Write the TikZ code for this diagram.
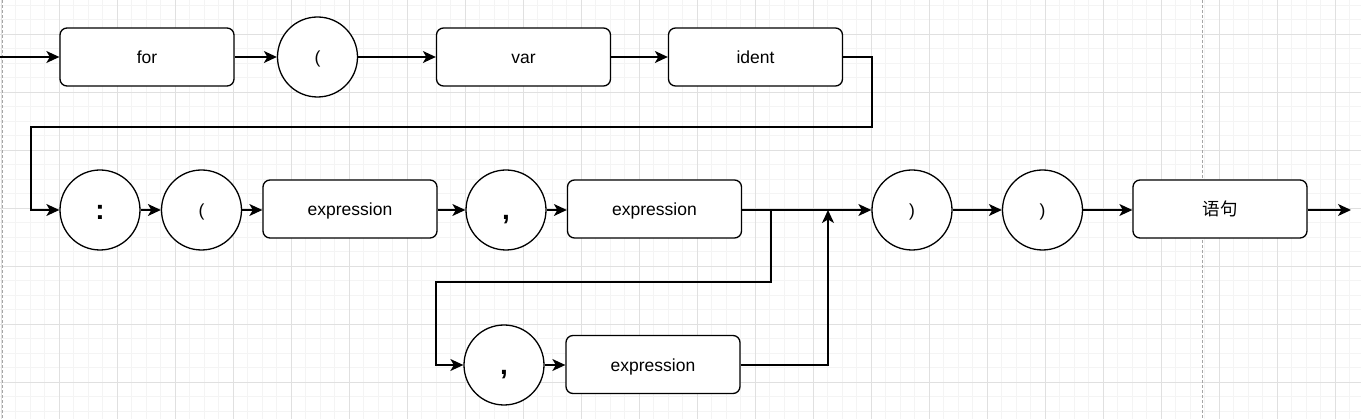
\documentclass[tikz,border=0pt]{standalone}
\usepackage{fontspec}
\setmainfont{Liberation Sans}
\newfontfamily\cjk{Noto Sans CJK SC}
\usetikzlibrary{arrows.meta,calc}
\definecolor{gridminor}{RGB}{244,244,244}
\definecolor{gridmajor}{RGB}{224,224,224}

\begin{document}
\begin{tikzpicture}[x=1pt,y=-1pt,
		box/.style={draw,line width=1.3pt,fill=white,rounded corners=7pt,
			minimum width=174pt,minimum height=58pt,text height=14pt,text depth=0pt,
			font=\fontsize{17.5}{20}\selectfont},
		term/.style={draw,circle,line width=1.3pt,fill=white,minimum size=80pt,
			inner sep=0pt,text height=14pt,text depth=0pt,font=\fontsize{17.5}{20}\selectfont},
		bigterm/.style={term,text height=19pt,font=\fontsize{28}{30}\selectfont\bfseries},
		flow/.style={line width=1.3pt,-{Stealth[length=13pt,width=12pt,inset=3.5pt]}},
		link/.style={line width=1.3pt}]
	\useasboundingbox (0,0) rectangle (1361,419);
	% Background grid
	\foreach \gx in {1.3,15.8,...,1361} \draw[gridminor,line width=0.8pt] (\gx,0) -- (\gx,419);
	\foreach \gy in {5.3,19.8,...,419} \draw[gridminor,line width=0.8pt] (0,\gy) -- (1361,\gy);
	\foreach \gx in {1.3,59.3,...,1361} \draw[gridmajor,line width=0.8pt] (\gx,0) -- (\gx,419);
	\foreach \gy in {34.3,92.3,...,419} \draw[gridmajor,line width=0.8pt] (0,\gy) -- (1361,\gy);
	\draw[gray!70,line width=0.8pt,dash pattern=on 3pt off 2pt] (2,0) -- (2,419);
	\draw[gray!70,line width=0.8pt,dash pattern=on 3pt off 2pt] (1202,0) -- (1202,419);
	
	% First row
	\node[box] (for) at (147,57) {for};
	\node[term] (lpar) at (317.5,57) {(};
	\node[box] (var) at (523.5,57) {var};
	\node[box] (ident) at (755.5,57) {ident};
	% Second row
	\node[bigterm] (colon) at (100,210) {:};
	\node[term] (lparb) at (201.5,210) {(};
	\node[box] (exprA) at (350,209) {expression};
	\node[bigterm] (comma) at (506,210) {,};
	\node[box] (exprB) at (654.5,209) {expression};
	\node[term] (rpar) at (912,210) {)};
	\node[term] (rparb) at (1042.5,210) {)};
	\node[box] (stmt) at (1220,209) {\cjk 语句};
	% Optional branch
	\node[bigterm] (commab) at (504,365) {,};
	\node[box] (exprC) at (653,364.5) {expression};
	
	\coordinate (start) at (0,57);
	\coordinate (finish) at (1351,210);
	\coordinate (split) at (771,210);
	\coordinate (join) at (828,210);
	
	% Connectors
	\draw[flow] (start) -- (for);
	\draw[flow] (for) -- (lpar);
	\draw[flow] (lpar) -- (var);
	\draw[flow] (var) -- (ident);
	\draw[flow] (ident.east) -| (872,127) -- (31,127) |- (colon.west);
	\draw[flow] (colon) -- (lparb);
	\draw[flow] (lparb) -- (exprA.west |- lparb);
	\draw[flow] (exprA.east |- comma) -- (comma);
	\draw[flow] (comma) -- (exprB.west |- comma);
	\draw[flow] (exprB.east |- split) -- (rpar);
	\draw[flow] (split) -- (771,282) -| (436,365) -- (commab.west);
	\draw[flow] (commab) -- (exprC.west |- commab);
	\draw[flow] (exprC.east |- commab) -| (join);
	\draw[flow] (rpar) -- (rparb);
	\draw[flow] (rparb) -- (stmt.west |- rparb);
	\draw[flow] (stmt.east |- finish) -- (finish);
\end{tikzpicture}
\end{document}
